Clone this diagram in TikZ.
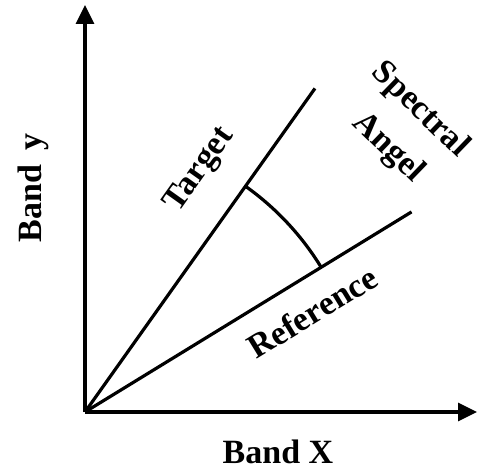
\documentclass[tikz,border=0pt]{standalone}
\usepackage{fontspec}
\setmainfont{Liberation Serif}
\usetikzlibrary{arrows.meta,calc}
\begin{document}
\begin{tikzpicture}[x=1pt,y=1pt,
  axisline/.style={line width=3.2pt,-{Triangle[length=19pt,width=18pt]}},
  ray/.style={line width=3.2pt},
  lbl/.style={inner sep=0pt,font=\fontsize{34}{40}\selectfont\bfseries}]
\useasboundingbox (0,0) rectangle (478,471);
\coordinate (O) at (85,59);
\coordinate (YE) at (85,466);
\coordinate (XE) at (477,59);
\coordinate (T) at ($(O)+(54.6:397)$);
\coordinate (R) at ($(O)+(31.5:383)$);
\draw[axisline] (O) -- (YE);
\draw[axisline] (O) -- (XE);
\draw[ray] (O) -- (T);
\draw[ray] (O) -- (R);
\draw[ray] ($(O)+(54.6:277)$) arc[start angle=54.6,end angle=31.5,radius=277];
\node[lbl,rotate=90] (by) at (33,283) {Band\, y};
\node[lbl] (bx) at (278,19) {Band X};
\node[lbl,rotate=54.6] (tg) at (200,301) {Target};
\node[lbl,rotate=31.5] (rf) at (312,159) {Reference};
\node[lbl,rotate=-44] (sp) at (420,361) {Spectral};
\node[lbl,rotate=-44] (an) at (388,323) {Angel};
\end{tikzpicture}
\end{document}
